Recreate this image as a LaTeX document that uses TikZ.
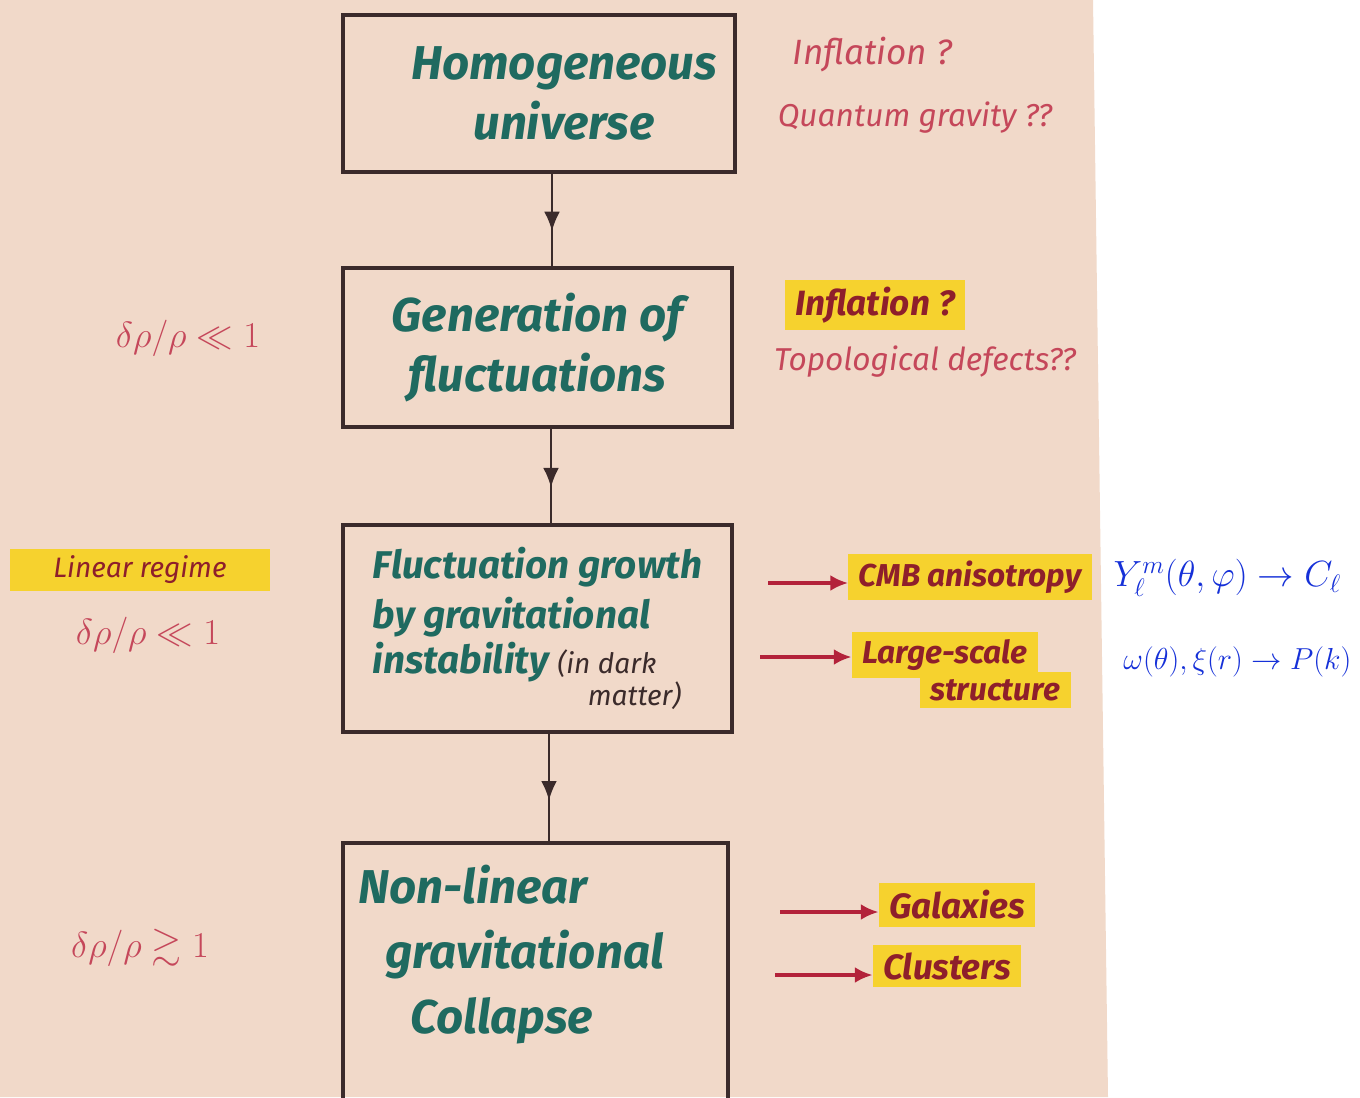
\documentclass[tikz,border=0pt]{standalone}
\usepackage{fontspec}
\usepackage{amsmath,amssymb}
\setmainfont{Fira Sans}
\usetikzlibrary{arrows.meta,decorations.markings,positioning}

\definecolor{paper}{HTML}{F1D9C9}
\definecolor{ink}{HTML}{3B2B2B}
\definecolor{boxink}{HTML}{1F6A60}
\definecolor{noteink}{HTML}{C5475A}
\definecolor{hlink}{HTML}{8E1F2B}
\definecolor{hlyellow}{HTML}{F6D22E}
\definecolor{formulaink}{HTML}{1530D8}
\definecolor{arrowred}{HTML}{B3223A}

\tikzset{
  box/.style={draw=ink, line width=2.2pt, align=center, text=boxink},
  boxfont/.style={font=\bfseries\itshape\fontsize{27}{34}\selectfont},
  flow/.style={draw=ink, line width=1.2pt, postaction={decorate},
    decoration={markings, mark=at position 0.62 with {\arrow{Latex[length=11pt,width=9pt]}}}},
  note/.style={text=noteink, font=\itshape\fontsize{18}{22}\selectfont},
  hl/.style={fill=hlyellow, text=hlink, inner xsep=6pt, inner ysep=4pt,
    font=\bfseries\itshape\fontsize{18}{22}\selectfont},
  formula/.style={text=formulaink, font=\fontsize{20}{24}\selectfont},
  redarrow/.style={draw=arrowred, line width=1.8pt, -{Latex[length=10pt,width=9pt]}}
}

\begin{document}
\begin{tikzpicture}
  \useasboundingbox (0,0) rectangle (27.2,-21.94);
  \fill[white] (0,0) rectangle (27.2,-21.94);
  % paper sheet
  \fill[paper] (0,0) -- (21.86,0) -- (22.16,-21.94) -- (0,-21.94) -- cycle;

  % main chain
  \node[box, boxfont, minimum width=7.84cm, minimum height=3.14cm] (b1) at (10.78,-1.87)
    {\hspace*{1cm}Homogeneous\\\hspace*{1cm}universe};
  \node[box, boxfont, minimum width=7.78cm, minimum height=3.18cm] (b2) at (10.75,-6.95)
    {Generation of\\fluctuations};
  \node[box, minimum width=7.78cm, minimum height=4.14cm, align=left,
        font=\bfseries\itshape\fontsize{22}{28}\selectfont] (b3) at (10.75,-12.57)
    {Fluctuation growth\\
     by gravitational\\[-2pt]
     instability {\mdseries\color{ink}\fontsize{16}{18}\selectfont (in dark}\\[-10pt]
     \hspace*{4.3cm}{\mdseries\color{ink}\fontsize{16}{18}\selectfont matter)}};
  \node[box, minimum width=7.7cm, minimum height=5.34cm] (b4) at (10.71,-19.53) {};
  \node[boxfont, text=boxink, align=left, anchor=north west, inner sep=0pt] (t4) at (7.16,-17.3)
    {Non-linear\\[3pt]\hspace*{0.54cm}gravitational\\[3pt]\hspace*{1.04cm}Collapse};

  \draw[flow] ([xshift=0.26cm]b1.south) -- ([xshift=0.26cm]b1.south |- b2.north);
  \draw[flow] ([xshift=0.27cm]b2.south) -- ([xshift=0.27cm]b2.south |- b3.north);
  \draw[flow] ([xshift=0.23cm]b3.south) -- ([xshift=0.23cm]b3.south |- b4.north);

  % origin of fluctuations
  \node[note, font=\itshape\fontsize{20}{24}\selectfont] (infl1) at (17.45,-1.1) {Inflation ?};
  \node[note] (qg) at (18.3,-2.36) {Quantum gravity ??};
  \node[hl, font=\bfseries\itshape\fontsize{20}{24}\selectfont] (infl2) at (17.5,-6.1) {Inflation ?};
  \node[note] (topo) at (18.5,-7.24) {Topological defects??};

  % regimes
  \node[note, font=\fontsize{22}{24}\selectfont] (r1) at (3.76,-6.76) {$\delta\rho/\rho \ll 1$};
  \node[hl, font=\itshape\fontsize{16}{20}\selectfont, minimum width=5.2cm] (lin) at (2.8,-11.4) {Linear regime};
  \node[note, font=\fontsize{22}{24}\selectfont] (r2) at (2.96,-12.7) {$\delta\rho/\rho \ll 1$};
  \node[note, font=\fontsize{22}{24}\selectfont] (r3) at (2.8,-18.96) {$\delta\rho/\rho \gtrsim 1$};

  % observables
  \node[hl] (cmb) at (19.4,-11.54) {CMB anisotropy};
  \node[hl] (lss1) at (18.9,-13.1) {Large-scale};
  \node[hl] (lss2) at (19.9,-13.8) {structure};
  \node[formula, anchor=west] (ylm) at (22.15,-11.56) {$Y_\ell^m(\theta,\varphi) \to C_\ell$};
  \node[formula, font=\fontsize{19}{22}\selectfont, anchor=east] (pk) at (27.15,-13.24)
    {$\omega(\theta),\xi(r)\to P(k)$};
  \node[hl, font=\bfseries\itshape\fontsize{20}{24}\selectfont] (gal) at (19.14,-18.1) {Galaxies};
  \node[hl, font=\bfseries\itshape\fontsize{20}{24}\selectfont] (clu) at (18.94,-19.32) {Clusters};

  \coordinate (c1) at (15.36,-11.66);
  \coordinate (c2) at (15.2,-13.14);
  \coordinate (c3) at (15.6,-18.24);
  \coordinate (c4) at (15.5,-19.5);
  \draw[redarrow] (c1) -- (c1 -| cmb.west);
  \draw[redarrow] (c2) -- (c2 -| lss1.west);
  \draw[redarrow] (c3) -- (c3 -| gal.west);
  \draw[redarrow] (c4) -- (c4 -| clu.west);
\end{tikzpicture}
\end{document}
